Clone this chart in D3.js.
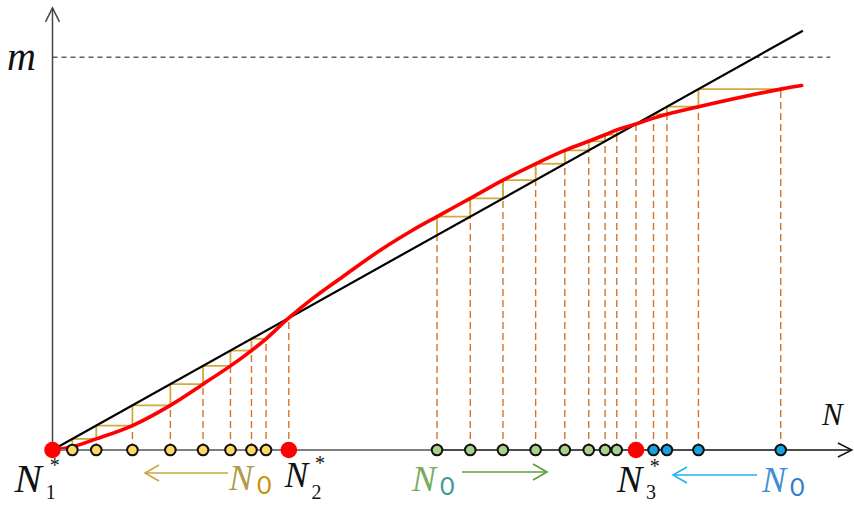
<!DOCTYPE html>
<html>
<head>
<meta charset="utf-8">
<script src="https://cdn.jsdelivr.net/npm/d3@7/dist/d3.min.js"></script>
<style>
  body { margin: 0; background: #fff; }
  svg { display: block; }
</style>
</head>
<body>
<svg id="chart" width="854" height="506"></svg>
<script>
// Recruitment curve m = f(N): control points of the red curve
const curveN = [0, 3.4, 7.5, 13.7, 20.2, 25.8, 30.5, 34.1, 36.6, 40.5, 44.6, 50.4, 56.1, 61.7,
                65.9, 71.6, 77.2, 82.8, 87.8, 91.9, 94.7, 96.7, 100, 103.0, 105.3, 110.7, 124.8, 128.4];
const curveM = [0, 1.0, 3.4, 7.5, 13.7, 20.2, 25.8, 30.5, 34.1, 40.5, 46.5, 54.0, 61.2, 67.4,
                71.6, 77.2, 82.8, 87.8, 91.9, 94.7, 96.7, 98.2, 100, 101.8, 103.0, 105.3, 110.7, 111.8];

// Equilibria N1*, N2*, N3* where f(N) = N
const fixedN = [0, 40.5, 100];
const fixedSub = ["1", "2", "3"];

// Iterates N0, N1, N2, ... (each value is f of the one before)
const seqLow  = [36.6, 34.1, 30.5, 25.8, 20.2, 13.7, 7.5, 3.4, 1.0];
const seqMid  = [65.9, 71.6, 77.2, 82.8, 87.8, 91.9, 94.7, 96.7, 98.2];
const seqHigh = [124.8, 110.7, 105.3, 103.0, 101.8];

// Carrying level m and axis extents
const mLevel = 120.5;
const diagEnd = 128.6;
const nAxisMax = 137;
const mAxisMax = 135.6;
const mLineEnd = 133.3;

const svg = d3.select("#chart");
const x = d3.scaleLinear().domain([0, 100]).range([52.5, 636]);
const y = d3.scaleLinear().domain([0, 100]).range([450, 124]);

const serif = "'Liberation Serif', 'DejaVu Serif', serif";
const sans = "Lato, 'Open Sans', sans-serif";

// ---- dashed level m ----
svg.append("line")
  .attr("x1", x(0)).attr("x2", x(mLineEnd))
  .attr("y1", y(mLevel)).attr("y2", y(mLevel))
  .attr("stroke", "#111").attr("stroke-width", 1)
  .attr("stroke-dasharray", "5,4");

// ---- vertical dashed guides from the N axis up to the curve ----
const guides = svg.append("g")
  .attr("stroke", "#d4742c").attr("stroke-width", 1.4)
  .attr("stroke-dasharray", "7,4");
[seqLow, seqMid, seqHigh].forEach(s => {
  for (let i = 0; i < s.length - 1; i++) {
    guides.append("line")
      .attr("x1", x(s[i])).attr("x2", x(s[i]))
      .attr("y1", y(0)).attr("y2", y(s[i + 1]));
  }
});
fixedN.slice(1).forEach(n => {
  guides.append("line")
    .attr("x1", x(n)).attr("x2", x(n))
    .attr("y1", y(0)).attr("y2", y(n));
});

// ---- cobweb staircase between the diagonal and the curve ----
const web = svg.append("g")
  .attr("stroke", "#d2a93c").attr("stroke-width", 1.8).attr("fill", "none");
[seqLow, seqMid, seqHigh].forEach(s => {
  for (let i = 0; i < s.length - 1; i++) {
    // the first step only gets a riser when the diagonal lies below the curve
    if (i > 0 || s[1] > s[0]) {
      web.append("line")
        .attr("x1", x(s[i])).attr("x2", x(s[i]))
        .attr("y1", y(s[i])).attr("y2", y(s[i + 1]));
    }
    if (i < s.length - 2) {
      web.append("line")
        .attr("x1", x(s[i])).attr("x2", x(s[i + 1]))
        .attr("y1", y(s[i + 1])).attr("y2", y(s[i + 1]));
    }
  }
});

// ---- diagonal m = N ----
svg.append("line")
  .attr("x1", x(0)).attr("y1", y(0))
  .attr("x2", x(diagEnd)).attr("y2", y(diagEnd))
  .attr("stroke", "#000").attr("stroke-width", 2.2);

// ---- recruitment curve ----
const curvePts = curveN.map((n, i) => [n, curveM[i]]);
svg.append("path")
  .datum(curvePts)
  .attr("fill", "none")
  .attr("stroke", "#ff0000")
  .attr("stroke-width", 3.6)
  .attr("stroke-linecap", "round")
  .attr("d", d3.line().x(d => x(d[0])).y(d => y(d[1])).curve(d3.curveCatmullRom.alpha(0.5)));

// ---- axes ----
const yTop = y(mAxisMax), xEnd = x(nAxisMax);
svg.append("line")
  .attr("x1", x(0)).attr("x2", x(0)).attr("y1", y(0)).attr("y2", yTop)
  .attr("stroke", "#444").attr("stroke-width", 1.5);
svg.append("path")
  .attr("d", `M${x(0) - 7},${yTop + 14} L${x(0)},${yTop} L${x(0) + 7},${yTop + 14}`)
  .attr("fill", "none").attr("stroke", "#444").attr("stroke-width", 1.5);

svg.append("line")
  .attr("x1", x(0)).attr("x2", x(seqMid[0])).attr("y1", y(0)).attr("y2", y(0))
  .attr("stroke", "#7f7f7f").attr("stroke-width", 2.2);
svg.append("line")
  .attr("x1", x(seqMid[0])).attr("x2", xEnd).attr("y1", y(0)).attr("y2", y(0))
  .attr("stroke", "#111").attr("stroke-width", 1.4);
svg.append("path")
  .attr("d", `M${xEnd - 14},${y(0) - 7} L${xEnd},${y(0)} L${xEnd - 14},${y(0) + 7}`)
  .attr("fill", "none").attr("stroke", "#111").attr("stroke-width", 1.4);

// ---- iterate markers ----
const seqStyles = [
  { s: seqLow, fill: "#ffd966" },
  { s: seqMid, fill: "#a9d18e" },
  { s: seqHigh, fill: "#14a3e0" }
];
seqStyles.forEach(({ s, fill }) => {
  svg.append("g").selectAll("circle")
    .data(s.slice(0, -1))
    .join("circle")
    .attr("cx", d => x(d)).attr("cy", y(0)).attr("r", 5.3)
    .attr("fill", fill).attr("stroke", "#111").attr("stroke-width", 2);
});

// equilibria
svg.append("g").selectAll("circle")
  .data(fixedN)
  .join("circle")
  .attr("cx", d => x(d)).attr("cy", y(0)).attr("r", 8.3)
  .attr("fill", "#ff0000");

// ---- labels ----
svg.append("text")
  .attr("x", 7).attr("y", 70)
  .attr("font-family", serif).attr("font-style", "italic").attr("font-size", 40)
  .attr("fill", "#111").text("m");

svg.append("text")
  .attr("x", 822).attr("y", 425)
  .attr("font-family", serif).attr("font-style", "italic").attr("font-size", 31)
  .attr("fill", "#111").text("N");

// equilibrium labels N*_i
const starLabels = [
  { dx: -38, base: 492, size: 41, sub: 7 },
  { dx: -4, base: 487, size: 35, sub: 12 },
  { dx: -19, base: 492, size: 38, sub: 7 }
];
fixedN.forEach((n, i) => {
  const L = starLabels[i];
  const x0 = x(n) + L.dx;
  const g = svg.append("g").attr("fill", "#111").attr("font-family", serif);
  g.append("text")
    .attr("x", x0).attr("y", L.base)
    .attr("font-style", "italic").attr("font-size", L.size).text("N");
  g.append("text")
    .attr("x", x0 + L.size * 0.86).attr("y", L.base - L.size * 0.5)
    .attr("font-size", 20).text("*");
  g.append("text")
    .attr("x", x0 + L.size * 0.76).attr("y", L.base + L.sub)
    .attr("font-size", 20).text(fixedSub[i]);
});

// N0 labels with direction arrows
function n0Label(xN, base, colN, col0) {
  svg.append("text")
    .attr("x", xN).attr("y", base)
    .attr("font-family", serif).attr("font-style", "italic").attr("font-size", 36)
    .attr("fill", colN).text("N");
  svg.append("text")
    .attr("x", xN + 28).attr("y", base + 4)
    .attr("font-family", sans).attr("font-size", 25)
    .attr("fill", col0).text("0");
}
function arrow(x1, x2, yy, col) {
  const dir = x2 > x1 ? 1 : -1;
  svg.append("line")
    .attr("x1", x1).attr("x2", x2).attr("y1", yy).attr("y2", yy)
    .attr("stroke", col).attr("stroke-width", 1.6);
  svg.append("path")
    .attr("d", `M${x2 - dir * 14},${yy - 8} L${x2},${yy} L${x2 - dir * 14},${yy + 8}`)
    .attr("fill", "none").attr("stroke", col).attr("stroke-width", 1.6);
}

n0Label(229, 490, "#b09a48", "#bf960f");
arrow(228, 145, 473, "#c9a746");

n0Label(412, 491, "#78aa5e", "#3f9b92");
arrow(462, 547, 472, "#5d9c3f");

n0Label(762, 492, "#3d8fd6", "#2f7fcf");
arrow(757, 673, 475, "#22b2f0");
</script>
</body>
</html>
